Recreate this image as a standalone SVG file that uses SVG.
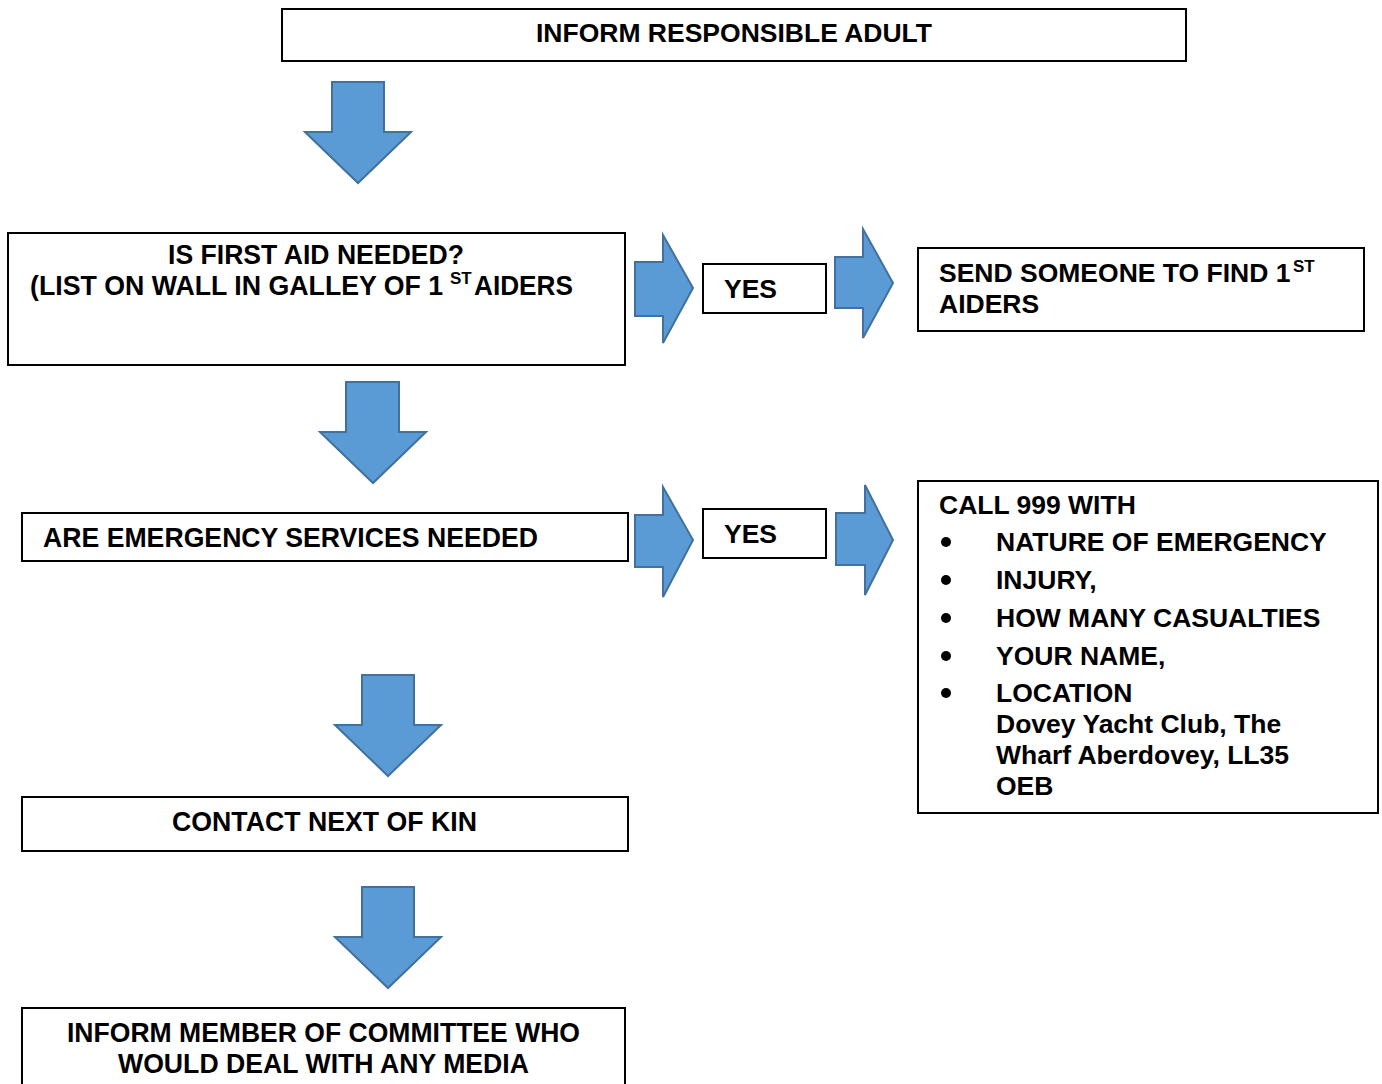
<svg xmlns="http://www.w3.org/2000/svg" width="1382" height="1084" viewBox="0 0 1382 1084">
<style>
.box{fill:#fff;stroke:#000;stroke-width:2}
.arr{fill:#5B9BD5;stroke:#41719C;stroke-width:2;stroke-linejoin:miter}
text{font-family:"Liberation Sans",Arial,sans-serif;font-weight:bold;font-size:26.5px;fill:#000}
.sup{font-size:17px}
.nar{font-size:28px}
.bul{fill:#000}
</style>
<rect width="1382" height="1084" fill="#fff"/>
<g id="connectors">
<path class="arr" d="M332,82 H384 V132 H411 L358,183 L305,132 H332 Z"/>
<path class="arr" d="M346,382 H399 V432 H426 L373,483 L320,432 H346 Z"/>
<path class="arr" d="M362,675 H414 V725 H441 L388,776 L335,725 H362 Z"/>
<path class="arr" d="M362,887 H414 V937 H441 L388,988 L335,937 H362 Z"/>
<path class="arr" d="M635,262 H663 V235 L693,288 L663,343 V316 H635 Z"/>
<path class="arr" d="M835,257 H863 V229 L893,283 L863,338 V308 H835 Z"/>
<path class="arr" d="M635,515 H663 V487 L693,540 L663,597 V567 H635 Z"/>
<path class="arr" d="M836,513 H865 V485 L893,540 L865,595 V565 H836 Z"/>
</g>
<g id="n1"><rect class="box" x="282" y="9" width="904" height="52"/>
<text x="734" y="42" text-anchor="middle">INFORM RESPONSIBLE ADULT</text></g>
<g id="n2"><rect class="box" x="8" y="233" width="617" height="132"/>
<text class="nar" transform="translate(168,264) scale(0.95,1)">IS FIRST AID NEEDED?</text>
<text class="nar" transform="translate(30,295) scale(0.955,1)">(LIST ON WALL IN GALLEY OF 1</text>
<text class="sup" x="450" y="284">ST</text>
<text class="nar" transform="translate(474,295) scale(0.936,1)">AIDERS</text></g>
<g id="n3"><rect class="box" x="703" y="264" width="123" height="49"/>
<text x="724" y="298">YES</text></g>
<g id="n4"><rect class="box" x="918" y="248" width="446" height="83"/>
<text x="939" y="282">SEND SOMEONE TO FIND 1</text>
<text class="sup" x="1293" y="272">ST</text>
<text x="939" y="313">AIDERS</text></g>
<g id="n5"><rect class="box" x="22" y="513" width="606" height="48"/>
<text class="nar" x="43" y="547" textLength="495" lengthAdjust="spacingAndGlyphs">ARE EMERGENCY SERVICES NEEDED</text></g>
<g id="n6"><rect class="box" x="703" y="509" width="123" height="49"/>
<text x="724" y="543">YES</text></g>
<g id="n7"><rect class="box" x="918" y="481" width="460" height="332"/>
<text x="939" y="514">CALL 999 WITH</text>
<circle class="bul" cx="946" cy="542" r="5"/><text x="996" y="551">NATURE OF EMERGENCY</text>
<circle class="bul" cx="946" cy="580" r="5"/><text x="996" y="589">INJURY,</text>
<circle class="bul" cx="946" cy="618" r="5"/><text x="996" y="627">HOW MANY CASUALTIES</text>
<circle class="bul" cx="946" cy="656" r="5"/><text x="996" y="665">YOUR NAME,</text>
<circle class="bul" cx="946" cy="693" r="5"/><text x="996" y="702">LOCATION</text>
<text x="996" y="733">Dovey Yacht Club, The</text>
<text x="996" y="764">Wharf Aberdovey, LL35</text>
<text x="996" y="795">OEB</text>
</g>
<g id="n8"><rect class="box" x="22" y="797" width="606" height="54"/>
<text class="nar" x="172" y="831" textLength="305" lengthAdjust="spacingAndGlyphs">CONTACT NEXT OF KIN</text></g>
<g id="n9"><rect class="box" x="22" y="1008" width="603" height="90"/>
<text class="nar" x="67" y="1042" textLength="513" lengthAdjust="spacingAndGlyphs">INFORM MEMBER OF COMMITTEE WHO</text>
<text class="nar" x="118" y="1073" textLength="411" lengthAdjust="spacingAndGlyphs">WOULD DEAL WITH ANY MEDIA</text></g>
</svg>
